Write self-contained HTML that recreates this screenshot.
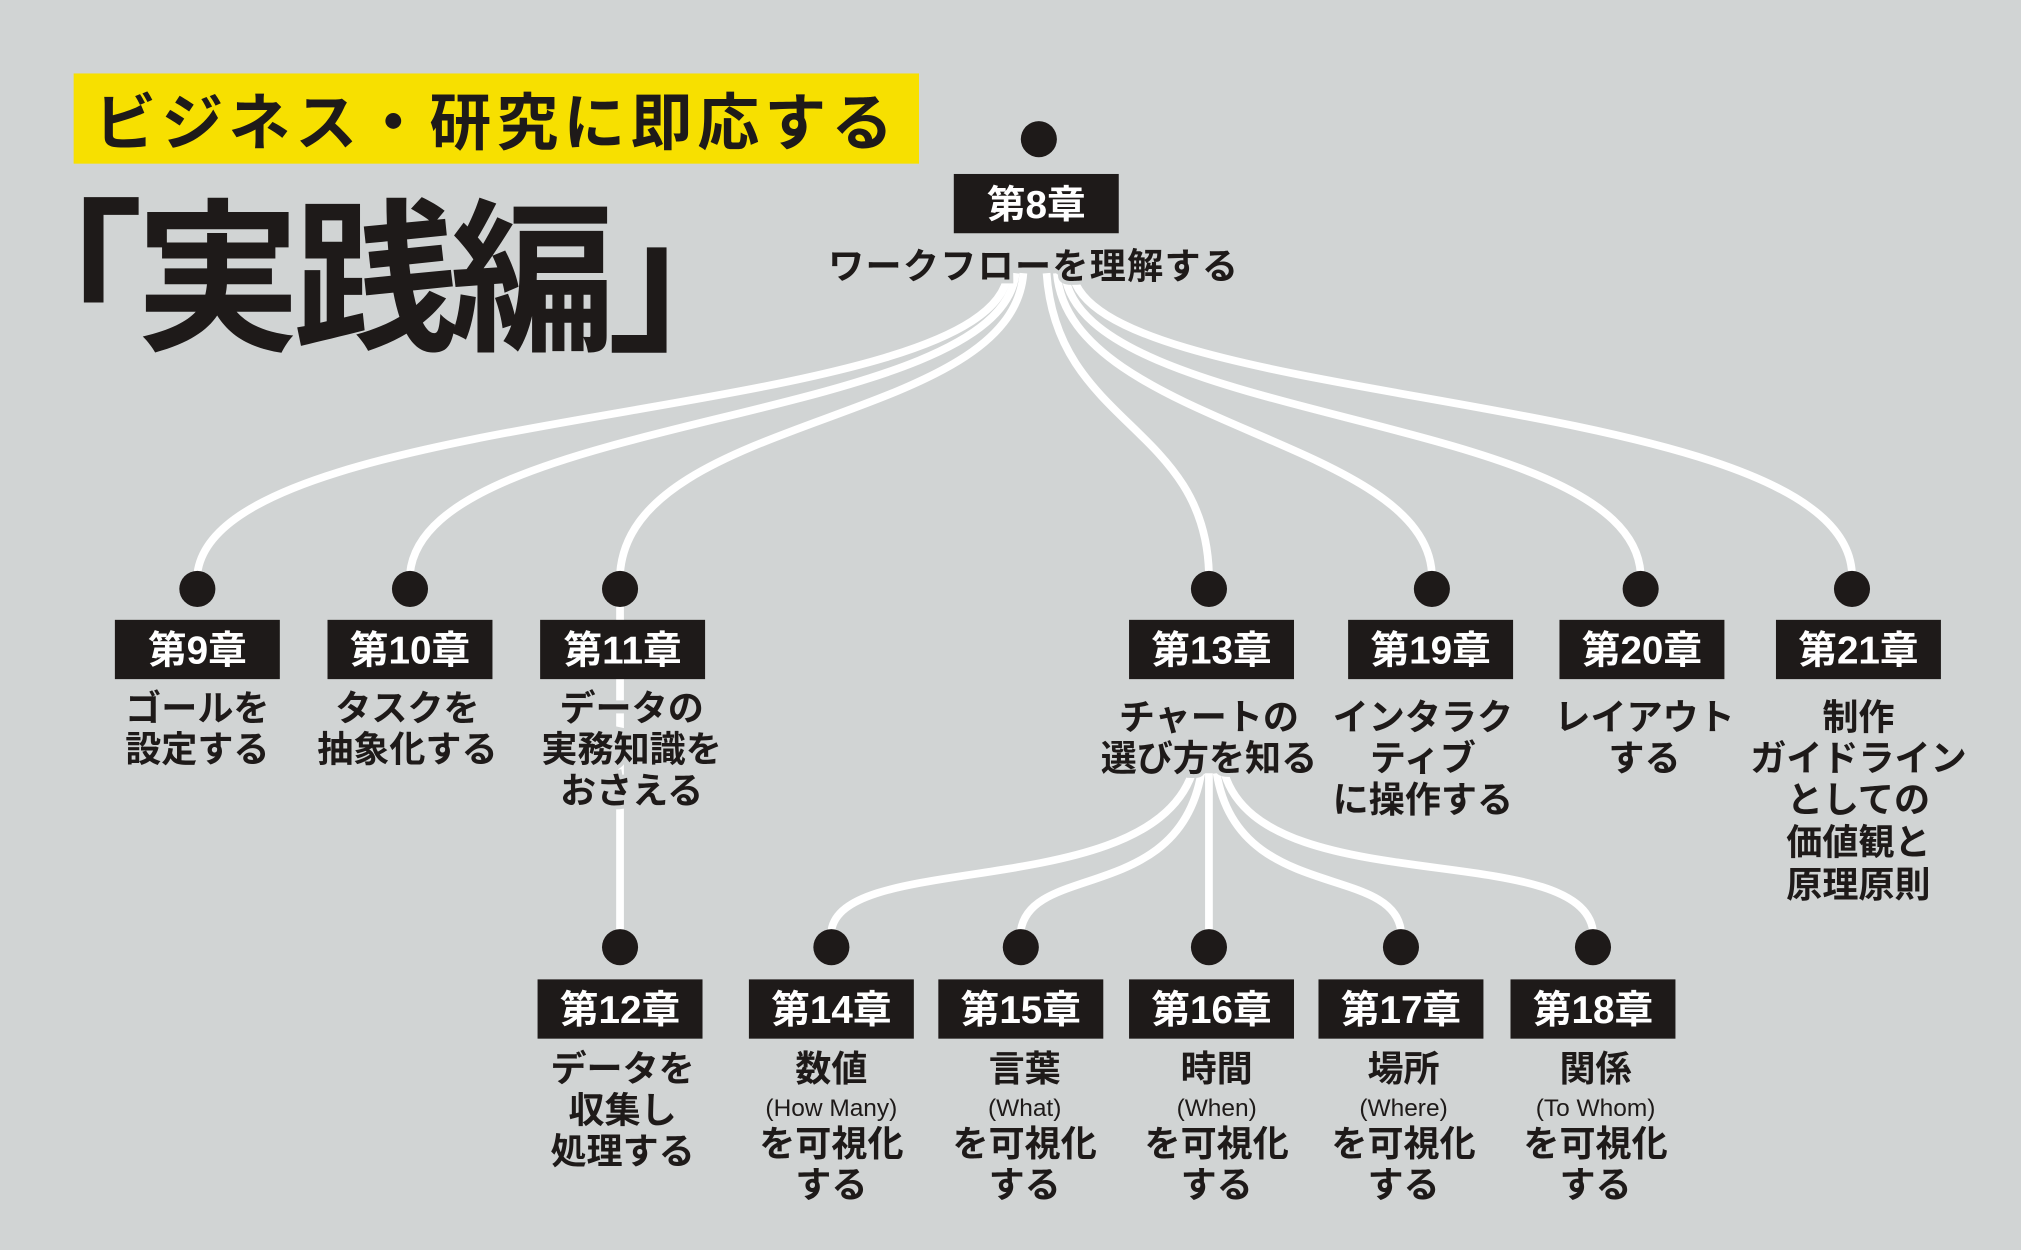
<!DOCTYPE html>
<html><head><meta charset="utf-8"><style>
html,body{margin:0;padding:0;background:#d1d4d4;}
svg{display:block;}
text{font-family:"Liberation Sans","Noto Sans CJK JP",sans-serif;font-weight:bold;}
.lb{font-size:28px;fill:#1e1a19;text-anchor:middle;stroke:#d1d4d4;stroke-width:6px;paint-order:stroke;}
.sm{font-size:19px;font-weight:normal;}
.bx{fill:#1e1a19;}
.bt{font-size:30px;fill:#fff;text-anchor:middle;}
.ln{fill:none;stroke:#fff;stroke-width:6;}
</style></head><body>
<svg width="2021" height="1250" viewBox="0 0 1568 970" xmlns="http://www.w3.org/2000/svg">
<rect width="1568" height="970" fill="#d1d4d4"/>
<rect x="57" y="57" width="656" height="70" fill="#f7e000"/>
<text x="385" y="112" font-size="48" text-anchor="middle" fill="#1e1a19" letter-spacing="4">ビジネス・研究に即応する</text>
<text x="288" y="262" font-size="128" text-anchor="middle" fill="#1e1a19" letter-spacing="-6">「実践編」</text>

<path class="ln" d="M782 212 C770 330,170 310,153 445"/>
<path class="ln" d="M788 212 C775 330,330 320,318 445"/>
<path class="ln" d="M794 212 C785 330,490 320,481 445"/>
<path class="ln" d="M481 460 L481 735"/>
<path class="ln" d="M812 212 C820 330,935 330,938 445"/>
<path class="ln" d="M820 212 C830 330,1105 340,1111 445"/>
<path class="ln" d="M826 212 C840 330,1265 320,1273 445"/>
<path class="ln" d="M832 212 C850 320,1430 300,1437 445"/>
<path class="ln" d="M925 600 C890 700,655 660,645 722"/>
<path class="ln" d="M932 600 C915 700,800 670,792 722"/>
<path class="ln" d="M938 600 L938 722"/>
<path class="ln" d="M944 600 C960 700,1080 670,1087 722"/>
<path class="ln" d="M950 600 C980 700,1225 650,1236 722"/>

<g fill="#1e1a19">
<circle cx="806" cy="108" r="14"/>
<circle cx="153" cy="457" r="14"/><circle cx="318" cy="457" r="14"/><circle cx="481" cy="457" r="14"/>
<circle cx="938" cy="457" r="14"/><circle cx="1111" cy="457" r="14"/><circle cx="1273" cy="457" r="14"/><circle cx="1437" cy="457" r="14"/>
<circle cx="481" cy="735" r="14"/><circle cx="645" cy="735" r="14"/><circle cx="792" cy="735" r="14"/>
<circle cx="938" cy="735" r="14"/><circle cx="1087" cy="735" r="14"/><circle cx="1236" cy="735" r="14"/>
</g>

<rect class="bx" x="740" y="135" width="128" height="46"/>
<text class="bt" x="804" y="169">第8章</text>
<text class="lb" x="802" y="216" letter-spacing="1">ワークフローを理解する</text>

<rect class="bx" x="89" y="481" width="128" height="46"/><text class="bt" x="153" y="515">第9章</text>
<rect class="bx" x="254" y="481" width="128" height="46"/><text class="bt" x="318" y="515">第10章</text>
<rect class="bx" x="419" y="481" width="128" height="46"/><text class="bt" x="483" y="515">第11章</text>
<rect class="bx" x="876" y="481" width="128" height="46"/><text class="bt" x="940" y="515">第13章</text>
<rect class="bx" x="1046" y="481" width="128" height="46"/><text class="bt" x="1110" y="515">第19章</text>
<rect class="bx" x="1210" y="481" width="128" height="46"/><text class="bt" x="1274" y="515">第20章</text>
<rect class="bx" x="1378" y="481" width="128" height="46"/><text class="bt" x="1442" y="515">第21章</text>

<text class="lb" x="153" y="559">ゴールを</text><text class="lb" x="153" y="591">設定する</text>
<text class="lb" x="316" y="559">タスクを</text><text class="lb" x="316" y="591">抽象化する</text>
<text class="lb" x="490" y="559">データの</text><text class="lb" x="490" y="591">実務知識を</text><text class="lb" x="490" y="623">おさえる</text>
<text class="lb" x="938" y="566">チャートの</text><text class="lb" x="938" y="598">選び方を知る</text>
<text class="lb" x="1104" y="566">インタラク</text><text class="lb" x="1104" y="598">ティブ</text><text class="lb" x="1104" y="630">に操作する</text>
<text class="lb" x="1276" y="566">レイアウト</text><text class="lb" x="1276" y="598">する</text>
<text class="lb" x="1442" y="566">制作</text><text class="lb" x="1442" y="598">ガイドライン</text><text class="lb" x="1442" y="630">としての</text><text class="lb" x="1442" y="663">価値観と</text><text class="lb" x="1442" y="696">原理原則</text>

<rect class="bx" x="417" y="760" width="128" height="46"/><text class="bt" x="481" y="794">第12章</text>
<rect class="bx" x="581" y="760" width="128" height="46"/><text class="bt" x="645" y="794">第14章</text>
<rect class="bx" x="728" y="760" width="128" height="46"/><text class="bt" x="792" y="794">第15章</text>
<rect class="bx" x="876" y="760" width="128" height="46"/><text class="bt" x="940" y="794">第16章</text>
<rect class="bx" x="1023" y="760" width="128" height="46"/><text class="bt" x="1087" y="794">第17章</text>
<rect class="bx" x="1172" y="760" width="128" height="46"/><text class="bt" x="1236" y="794">第18章</text>

<text class="lb" x="483" y="839">データを</text><text class="lb" x="483" y="871">収集し</text><text class="lb" x="483" y="903">処理する</text>
<text class="lb" x="645" y="839">数値</text><text class="lb sm" x="645" y="866">(How Many)</text><text class="lb" x="645" y="897">を可視化</text><text class="lb" x="645" y="929">する</text>
<text class="lb" x="795" y="839">言葉</text><text class="lb sm" x="795" y="866">(What)</text><text class="lb" x="795" y="897">を可視化</text><text class="lb" x="795" y="929">する</text>
<text class="lb" x="944" y="839">時間</text><text class="lb sm" x="944" y="866">(When)</text><text class="lb" x="944" y="897">を可視化</text><text class="lb" x="944" y="929">する</text>
<text class="lb" x="1089" y="839">場所</text><text class="lb sm" x="1089" y="866">(Where)</text><text class="lb" x="1089" y="897">を可視化</text><text class="lb" x="1089" y="929">する</text>
<text class="lb" x="1238" y="839">関係</text><text class="lb sm" x="1238" y="866">(To Whom)</text><text class="lb" x="1238" y="897">を可視化</text><text class="lb" x="1238" y="929">する</text>
</svg>
</body></html>
